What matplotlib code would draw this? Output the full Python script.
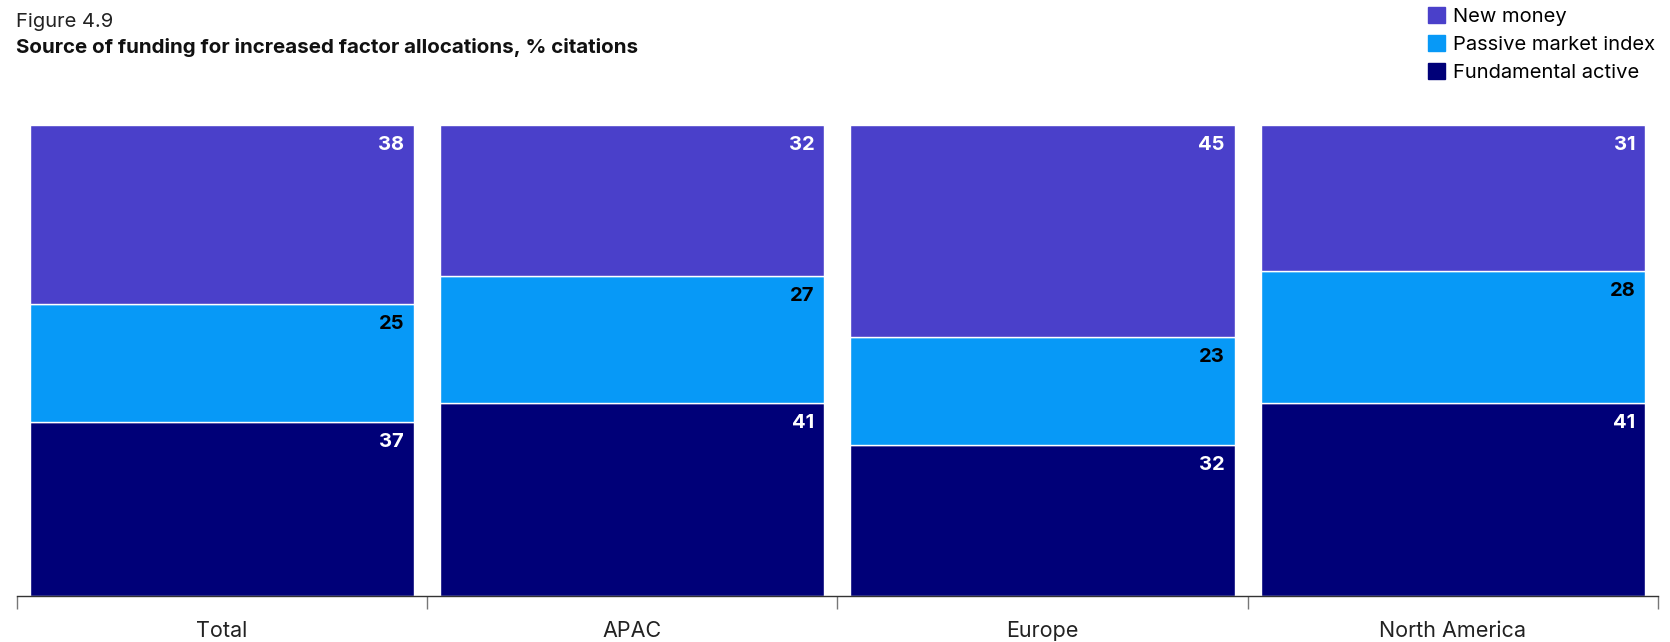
import numpy as np
import matplotlib.pyplot as plt
from matplotlib.patches import Patch

# Data (% citations)
regions = ['Total', 'APAC', 'Europe', 'North America']
fundamental_active = [37, 41, 32, 41]
passive_index = [25, 27, 23, 28]
new_money = [38, 32, 45, 31]

series = ['Fundamental active', 'Passive market index', 'New money']
colors = ['#000078', '#0799F7', '#4A40CA']
label_colors = ['white', 'black', 'white']

plt.rcParams['font.family'] = ['Inter', 'DejaVu Sans']

fig = plt.figure(figsize=(16.7, 6.42), dpi=100)
ax = fig.add_axes([16.7 / 1670, 1 - 596 / 642, (1658 - 16.7) / 1670, (596 - 125) / 642])

x = np.arange(len(regions))
bottom = np.zeros(len(regions))
for vals, col, lc in zip([fundamental_active, passive_index, new_money], colors, label_colors):
    vals = np.array(vals)
    ax.bar(x, vals, width=0.936, bottom=bottom, color=col, edgecolor='white', linewidth=1)
    for xi, b, v in zip(x, bottom, vals):
        ax.annotate(str(v), (xi + 0.468, b + v), xytext=(-7, -8), textcoords='offset points',
                    ha='right', va='top', fontsize=14.5, fontweight='bold', color=lc)
    bottom += vals

ax.set_xlim(-0.5, len(regions) - 0.5)
ax.set_ylim(0, 100)
for s in ['top', 'right', 'left']:
    ax.spines[s].set_visible(False)
ax.spines['bottom'].set_color('#333333')
ax.spines['bottom'].set_linewidth(1)
ax.set_yticks([])
ax.set_xticks(x)
ax.set_xticklabels(regions, fontsize=15.5, color='#222222')
ax.tick_params(axis='x', which='major', length=0, pad=18)
ax.set_xticks(np.arange(-0.5, len(regions)), minor=True)
ax.tick_params(axis='x', which='minor', length=9.5, width=1, color='#777777', direction='out')

fig.text(16 / 1670, 1 - 27 / 642, 'Figure 4.9', fontsize=14.5, color='#222222', va='baseline')
fig.text(16 / 1670, 1 - 53 / 642, 'Source of funding for increased factor allocations, % citations',
         fontsize=14.8, fontweight='bold', color='#111111', va='baseline')

handles = [Patch(color=c) for c in colors[::-1]]
fig.legend(handles, series[::-1], loc='upper left', bbox_to_anchor=(1428 / 1670, 1 - 7 / 642),
           frameon=False, fontsize=14.5, handlelength=0.85, handleheight=0.85,
           handletextpad=0.4, labelspacing=0.45, borderpad=0, borderaxespad=0)

fig.savefig('out.png', dpi=100)
